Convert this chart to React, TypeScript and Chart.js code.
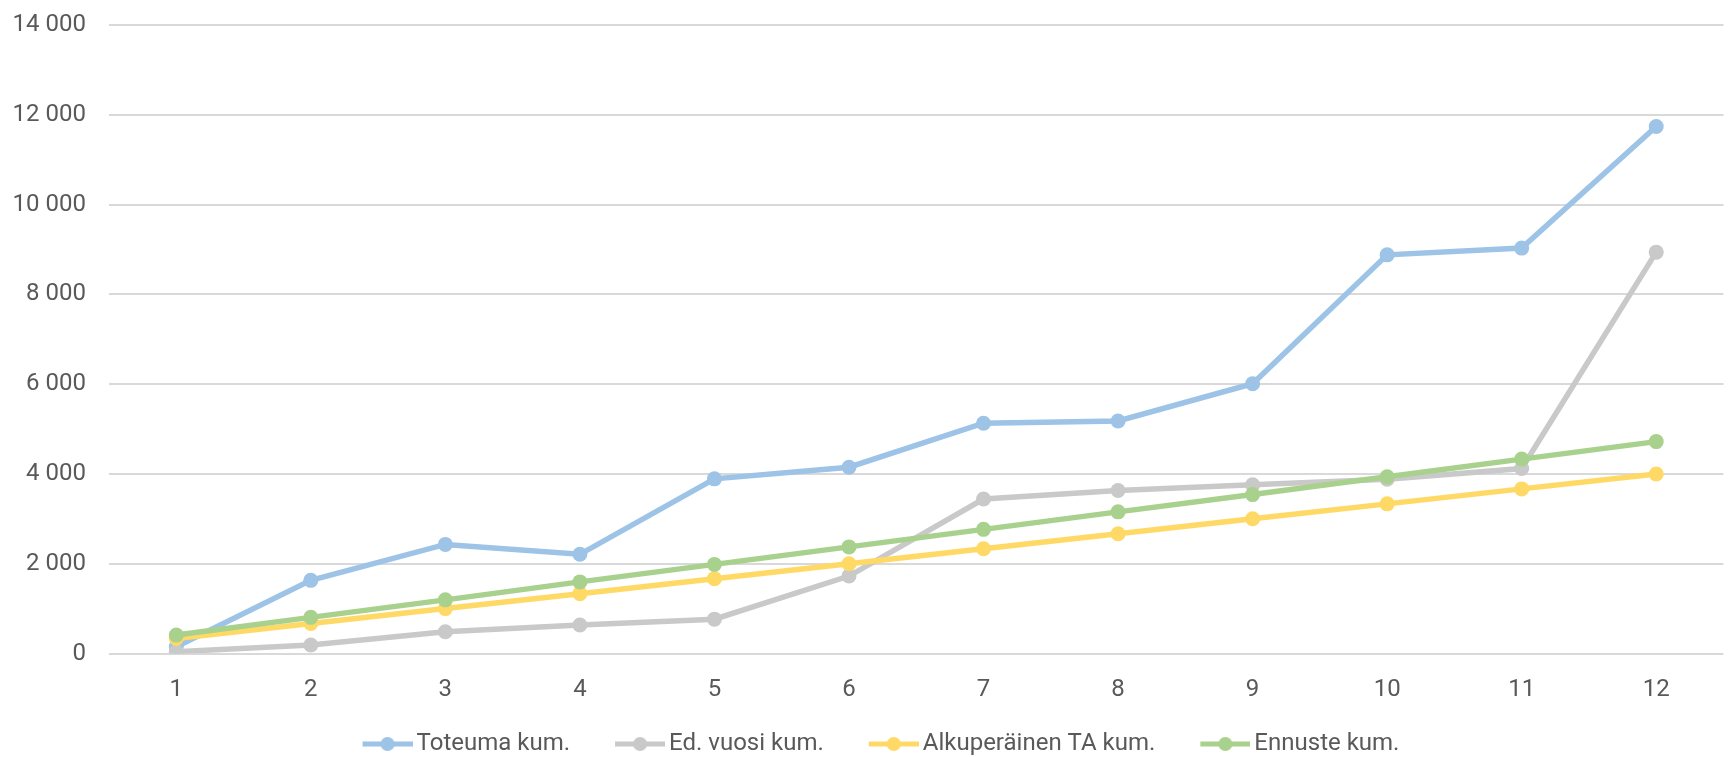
import React, { useEffect, useRef } from "react";
import { Chart, registerables } from "chart.js";

Chart.register(...registerables);

const categories = ["1", "2", "3", "4", "5", "6", "7", "8", "9", "10", "11", "12"];
const toteuma = [150, 1630, 2430, 2210, 3890, 4150, 5130, 5180, 6010, 8880, 9030, 11740];
const edVuosi = [40, 190, 485, 635, 765, 1725, 3440, 3630, 3760, 3880, 4120, 8940];
const alkuperainen = [333, 667, 1000, 1333, 1667, 2000, 2333, 2667, 3000, 3333, 3667, 4000];
const ennuste = [410, 805, 1195, 1595, 1985, 2375, 2765, 3155, 3540, 3935, 4330, 4720];
const yTicks = [0, 2000, 4000, 6000, 8000, 10000, 12000, 14000];
const seriesNames = ["Toteuma kum.", "Ed. vuosi kum.", "Alkuperäinen TA kum.", "Ennuste kum."];
const seriesColors = ["#9DC3E6", "#C9C9C9", "#FFD966", "#A9D18E"];

const FONT = "Roboto, 'Open Sans', sans-serif";
const FONT_SIZE = 24;
const TEXT = "#595959";

// legend icon: transparent lead-in, then a line with a dot (Excel style)
const POINT_STYLE_W = 75;
const ICON_W = 91;
const LINE_W = 50;
function legendIcon(color: string): HTMLCanvasElement {
  const c = document.createElement("canvas");
  c.width = ICON_W;
  c.height = 18;
  const ctx = c.getContext("2d")!;
  const x0 = ICON_W - LINE_W;
  ctx.strokeStyle = color;
  ctx.lineWidth = 5;
  ctx.beginPath();
  ctx.moveTo(x0, 9);
  ctx.lineTo(ICON_W, 9);
  ctx.stroke();
  ctx.fillStyle = color;
  ctx.beginPath();
  ctx.arc(x0 + LINE_W / 2, 9, 7, 0, Math.PI * 2);
  ctx.fill();
  return c;
}

function fmt(v: number): string {
  return String(v).replace(/\B(?=(\d{3})+(?!\d))/g, " ");
}

export default function App() {
  const ref = useRef<HTMLCanvasElement>(null);
  useEffect(() => {
    document.body.style.margin = "0";
    const values = [toteuma, edVuosi, alkuperainen, ennuste];
    const icons = seriesColors.map(legendIcon);
    const chart = new Chart(ref.current!, {
      type: "line",
      data: {
        labels: categories,
        datasets: values.map((d, i) => ({
          label: seriesNames[i],
          data: d,
          borderColor: seriesColors[i],
          backgroundColor: seriesColors[i],
          borderWidth: 5.5,
          pointRadius: 7.5,
          pointHoverRadius: 7.5,
          pointBorderWidth: 0,
          tension: 0,
          order: 3 - i,
        })),
      },
      options: {
        animation: false,
        responsive: true,
        maintainAspectRatio: false,
        layout: { padding: { left: 0, right: 2, top: 25, bottom: -9 } },
        scales: {
          x: {
            offset: true,
            grid: { display: false, drawTicks: false },
            border: { display: false },
            ticks: { color: TEXT, font: { family: FONT, size: FONT_SIZE }, padding: 22, maxRotation: 0 },
            afterFit: (s: any) => {
              s.height = 66.5;
            },
          },
          y: {
            min: 0,
            max: 14000,
            afterBuildTicks: (s: any) => {
              s.ticks = yTicks.map((v) => ({ value: v }));
            },
            ticks: {
              color: TEXT,
              font: { family: FONT, size: FONT_SIZE },
              padding: 0,
              callback: (v: any) => fmt(Number(v)),
            },
            grid: {
              color: "#D9D9D9",
              lineWidth: 2,
              drawTicks: true,
              tickLength: 23,
              tickColor: "rgba(0,0,0,0)",
            },
            border: { display: false },
            afterFit: (s: any) => {
              s.width = 109;
            },
          },
        },
        plugins: {
          tooltip: { enabled: false },
          legend: {
            position: "bottom",
            labels: {
              color: TEXT,
              font: { family: FONT, size: FONT_SIZE },
              usePointStyle: true,
              pointStyleWidth: POINT_STYLE_W,
              boxHeight: 18,
              padding: 12,
              generateLabels: () =>
                seriesNames.map((n, i) => ({
                  text: n,
                  fillStyle: seriesColors[i],
                  strokeStyle: seriesColors[i],
                  lineWidth: 0,
                  pointStyle: icons[i],
                  datasetIndex: i,
                  hidden: false,
                  fontColor: TEXT,
                })),
            },
          },
        },
      },
    });
    return () => chart.destroy();
  }, []);
  return (
    <div style={{ width: 1731, height: 757, position: "relative" }}>
      <canvas ref={ref} />
    </div>
  );
}
